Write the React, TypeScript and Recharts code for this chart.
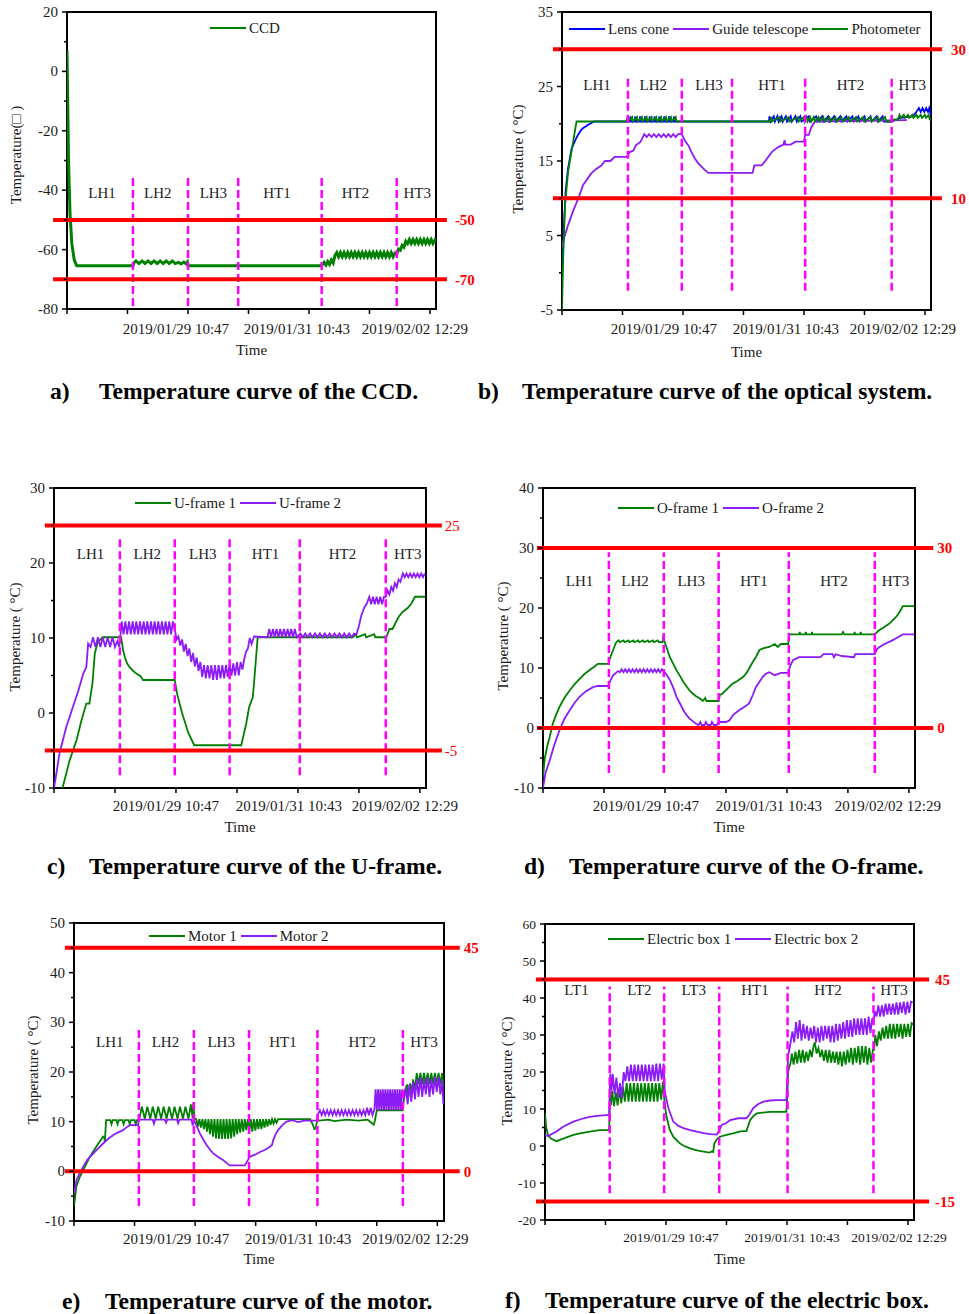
import React from 'react';
import { LineChart, Line, XAxis, YAxis, ReferenceLine, ReferenceArea, ReferenceDot, Legend } from 'recharts';

const FONT = "'Liberation Serif', 'Times New Roman', Times, serif";
const GREEN = '#008000';
const PURPLE = '#8b1cf5';
const BLUE = '#0000ff';
const RED = '#ff0000';
const MAGENTA = '#ff00ff';
const INK = '#1a1a1a';

type Pt = [number, number];

// ---------- shared axis data ----------
const timeTicks = [0, 1, 2, 3, 4, 5, 6];
const timeTickLabels = ['', '', '2019/01/29 10:47', '', '2019/01/31 10:43', '', '2019/02/02 12:29'];
const phasesLH = ['LH1', 'LH2', 'LH3', 'HT1', 'HT2', 'HT3'];
const phasesLT = ['LT1', 'LT2', 'LT3', 'HT1', 'HT2', 'HT3'];

// ---------- a) CCD ----------
const ccdYMajor = [-80, -60, -40, -20, 0, 20];
const ccdYMinor = [-70, -50, -30, -10, 10];
const ccdLimits = [-50, -70];
const ccdDividers = [1.09, 2.0, 2.83, 4.21, 5.45];
const ccdPhaseX = [0.58, 1.5, 2.42, 3.47, 4.77, 5.79];
const ccdTemp: Pt[] = [
  [0, 7], [0.01, -8], [0.025, -30], [0.05, -48], [0.08, -58], [0.12, -63.5], [0.16, -65.4], [1.09, -65.4],
  [1.11, -64.3], [1.14, -63.8], [1.19, -64.7], [1.24, -63.8], [1.29, -64.7], [1.34, -63.8], [1.39, -64.7], [1.44, -63.8],
  [1.49, -64.7], [1.54, -63.8], [1.59, -64.7], [1.64, -63.8], [1.69, -64.7], [1.74, -63.8], [1.79, -64.7], [1.84, -64.3],
  [1.89, -64.8], [1.93, -64.2], [1.97, -64.8], [1.99, -64.2], [2.0, -65.4],
  [4.21, -65.4], [4.25, -64.3], [4.28, -65.2], [4.31, -64], [4.34, -65], [4.37, -63.5], [4.4, -64.5], [4.43, -62], [4.46, -61],
  [4.49, -62.4], [4.52, -61], [4.55, -62.4], [4.58, -61], [4.61, -62.4], [4.64, -61], [4.67, -62.4], [4.7, -61],
  [4.73, -62.4], [4.76, -61], [4.79, -62.4], [4.82, -61], [4.85, -62.4], [4.88, -61], [4.91, -62.4], [4.94, -61],
  [4.97, -62.4], [5.0, -61], [5.03, -62.4], [5.06, -61], [5.09, -62.4], [5.12, -61], [5.15, -62.4], [5.18, -61],
  [5.21, -62.4], [5.24, -61], [5.27, -62.4], [5.3, -61], [5.33, -62.4], [5.36, -61], [5.39, -62.4], [5.42, -61.2],
  [5.45, -61.5], [5.48, -59.8], [5.51, -60.2], [5.54, -58.6], [5.57, -59.2], [5.6, -57.2], [5.63, -58], [5.66, -56.6],
  [5.69, -57.9], [5.72, -56.6], [5.75, -57.9], [5.78, -56.6], [5.81, -57.9], [5.84, -56.6], [5.87, -57.9], [5.9, -56.6],
  [5.93, -57.9], [5.96, -56.6], [5.99, -57.9], [6.02, -56.6], [6.05, -57.9], [6.08, -56.8], [6.1, -57.6],
];

// ---------- b) optical system ----------
const optYMajor = [-5, 5, 15, 25, 35];
const optYMinor = [0, 10, 20, 30];
const optLimits = [30, 10];
const optDividers = [1.09, 1.98, 2.81, 4.02, 5.45];
const optPhaseX = [0.58, 1.51, 2.43, 3.47, 4.77, 5.79];
const lensCone: Pt[] = [
  [0, 1], [0.03, 6], [0.06, 11], [0.1, 14], [0.16, 16.7], [0.22, 17.8], [0.27, 18.6], [0.33, 19.3], [0.42, 19.8], [0.53, 20.3],
  [1.12, 20.3], [1.13, 21], [1.14, 20.3], [1.2, 20.3], [1.21, 21], [1.22, 20.3], [1.28, 20.3], [1.29, 21], [1.3, 20.3],
  [1.36, 20.3], [1.37, 21], [1.38, 20.3], [1.44, 20.3], [1.45, 21], [1.46, 20.3], [1.52, 20.3], [1.53, 21], [1.54, 20.3],
  [1.6, 20.3], [1.61, 21], [1.62, 20.3], [1.68, 20.3], [1.69, 21], [1.7, 20.3], [1.76, 20.3], [1.77, 21], [1.78, 20.3],
  [1.84, 20.3], [1.85, 21], [1.86, 20.3],
  [3.42, 20.3], [3.43, 21], [3.45, 20.3], [3.5, 21], [3.52, 20.3], [3.56, 21], [3.58, 20.3], [3.63, 21], [3.65, 20.3],
  [3.7, 21], [3.72, 20.3], [3.78, 21], [3.8, 20.3], [3.86, 21], [3.88, 20.3], [3.94, 21], [3.96, 20.3], [4.08, 21],
  [4.1, 20.3], [4.2, 21], [4.22, 20.3], [4.3, 21], [4.32, 20.3], [4.4, 21], [4.42, 20.3], [4.5, 21], [4.52, 20.3],
  [4.6, 21], [4.62, 20.3], [4.7, 21], [4.72, 20.3], [4.8, 21], [4.82, 20.3], [4.9, 21], [4.92, 20.3], [5.0, 21],
  [5.02, 20.3], [5.1, 21], [5.12, 20.3], [5.2, 21], [5.22, 20.3], [5.3, 21], [5.32, 20.3], [5.45, 20.3], [5.6, 20.8],
  [5.8, 21], [5.86, 21.6], [5.9, 22.1], [5.93, 21.6], [5.96, 22.1], [5.99, 21.6], [6.02, 22.1], [6.05, 21.6], [6.07, 22.1], [6.1, 21],
];
const guideTelescope: Pt[] = [
  [0, 3.5], [0.03, 4.5], [0.1, 6.4], [0.18, 8.2], [0.27, 10], [0.35, 11.8], [0.42, 12.6], [0.48, 13.3], [0.56, 13.9],
  [0.65, 14.4], [0.71, 15], [0.8, 15], [0.87, 15.55], [1.07, 15.55], [1.12, 16.2], [1.18, 16.4], [1.22, 17.1], [1.3, 17.6],
  [1.36, 18.6], [1.4, 18.2], [1.44, 18.6], [1.48, 18.2], [1.52, 18.6], [1.56, 18.2], [1.6, 18.6], [1.64, 18.2], [1.68, 18.6],
  [1.72, 18.2], [1.76, 18.6], [1.8, 18.2], [1.84, 18.6], [1.88, 18.2], [1.92, 18.6], [1.98, 18.6], [2.04, 17.6], [2.09, 17.1],
  [2.14, 16.2], [2.2, 15.3], [2.26, 14.6], [2.31, 14.2], [2.36, 13.8], [2.42, 13.4], [3.15, 13.4], [3.18, 14.4], [3.3, 14.4],
  [3.36, 15], [3.41, 15.55], [3.48, 16.3], [3.58, 16.9], [3.66, 17.2], [3.68, 17.8], [3.69, 17.2], [3.78, 17.2], [3.86, 17.6],
  [4.0, 17.6], [4.02, 18.5], [4.08, 18.5], [4.12, 19.5], [4.18, 20.3], [5.0, 20.4], [5.7, 20.5],
];
const photometer: Pt[] = [
  [0, -5], [0.02, 2], [0.05, 9], [0.1, 13.5], [0.24, 20.3], [1.07, 20.3],
  [1.08, 20.9], [1.09, 20.3], [1.16, 20.9], [1.17, 20.3], [1.24, 20.9], [1.25, 20.3], [1.32, 20.9], [1.33, 20.3],
  [1.4, 20.9], [1.41, 20.3], [1.48, 20.9], [1.49, 20.3], [1.56, 20.9], [1.57, 20.3], [1.64, 20.9], [1.65, 20.3],
  [1.72, 20.9], [1.73, 20.3], [1.8, 20.9], [1.81, 20.3], [1.88, 20.9], [1.89, 20.3],
  [3.44, 20.3], [3.46, 20.9], [3.47, 20.3], [3.6, 20.9], [3.61, 20.3], [3.75, 20.9], [3.76, 20.3], [3.9, 20.9], [3.91, 20.3],
  [4.0, 20.9], [4.01, 20.3], [4.04, 20.9], [4.06, 20.3], [4.1, 20.9], [4.12, 20.3], [4.16, 20.9], [4.18, 20.3], [4.24, 20.9],
  [4.26, 20.3], [4.32, 20.9], [4.34, 20.3], [4.42, 20.9], [4.44, 20.3], [4.52, 20.9], [4.54, 20.3], [4.62, 20.9], [4.64, 20.3],
  [4.74, 20.9], [4.76, 20.3], [4.86, 20.9], [4.88, 20.3], [4.98, 20.9], [5.0, 20.3], [5.1, 20.9], [5.12, 20.3], [5.22, 20.9],
  [5.24, 20.3], [5.34, 20.9], [5.36, 20.3], [5.45, 20.3],
  [5.5, 20.6], [5.55, 20.5], [5.58, 21.2], [5.6, 20.8], [5.65, 21.2], [5.67, 20.8], [5.72, 21.2], [5.74, 20.8], [5.79, 21.2],
  [5.81, 20.8], [5.86, 21.2], [5.88, 20.8], [5.93, 21.2], [5.95, 20.8], [6.0, 21.2], [6.02, 20.8], [6.06, 21.2], [6.08, 20.6], [6.1, 20.4],
];

// ---------- c) U-frame ----------
const ufYMajor = [-10, 0, 10, 20, 30];
const ufYMinor = [-5, 5, 15, 25];
const ufLimits = [25, -5];
const ufDividers = [1.08, 1.98, 2.88, 4.03, 5.44];
const ufPhaseX = [0.6, 1.53, 2.44, 3.47, 4.73, 5.8];
const uFrame1: Pt[] = [
  [0.14, -10], [0.25, -6.5], [0.37, -3.6], [0.45, -1], [0.53, 1.25], [0.58, 1.25], [0.63, 3.9], [0.67, 8], [0.72, 9.5],
  [0.8, 10.1], [1.1, 10.1], [1.13, 8.5], [1.16, 7.5], [1.2, 6.6], [1.24, 6.1], [1.3, 5.6], [1.35, 5.25], [1.42, 4.9],
  [1.46, 4.4], [1.98, 4.4], [2.02, 2.5], [2.1, 0], [2.2, -2.6], [2.3, -4.3], [3.07, -4.3], [3.15, -1.5], [3.2, 0.8],
  [3.26, 2.1], [3.29, 5], [3.34, 10.1], [4.9, 10.1], [4.95, 10.5], [4.97, 10.1], [5.1, 10.5], [5.12, 10.1], [5.25, 10.5],
  [5.27, 10.1], [5.45, 10.1], [5.5, 11.2], [5.55, 11.2], [5.6, 12], [5.65, 12.8], [5.72, 13.5], [5.8, 14], [5.86, 14.6],
  [5.92, 15.5], [6.09, 15.5],
];
const uFrame2: Pt[] = [
  [0, -10], [0.05, -7.5], [0.09, -5.4], [0.2, -1.9], [0.31, 0.8], [0.4, 3], [0.48, 5.25], [0.53, 6.1], [0.56, 9.25],
  [0.6, 8.8], [0.64, 10.1], [0.68, 8.8], [0.72, 10.1], [0.76, 8.8], [0.8, 10.1], [0.84, 8.8], [0.88, 10.1], [0.92, 8.8],
  [0.96, 10.1], [1.0, 8.8], [1.04, 9.6], [1.07, 8.8], [1.09, 10.4],
  [1.11, 12.2], [1.14, 10.5], [1.17, 12.2], [1.2, 10.5], [1.23, 12.2], [1.26, 10.5], [1.29, 12.2], [1.32, 10.5], [1.35, 12.2],
  [1.38, 10.5], [1.41, 12.2], [1.44, 10.5], [1.47, 12.2], [1.5, 10.5], [1.53, 12.2], [1.56, 10.5], [1.59, 12.2], [1.62, 10.5],
  [1.65, 12.2], [1.68, 10.5], [1.71, 12.2], [1.74, 10.5], [1.77, 12.2], [1.8, 10.5], [1.83, 12.2], [1.86, 10.5], [1.89, 12.2],
  [1.92, 10.5], [1.95, 12.2],
  [1.98, 11.2], [2.01, 9.8], [2.04, 10.2], [2.07, 9.0], [2.1, 9.8], [2.13, 8.2], [2.16, 9.2], [2.19, 7.6], [2.22, 8.6],
  [2.25, 6.8], [2.28, 8], [2.31, 6.2], [2.34, 7.4], [2.37, 5.6], [2.4, 6.8],
  [2.43, 4.8], [2.46, 6.4], [2.49, 4.6], [2.52, 6.4], [2.55, 4.6], [2.58, 6.4], [2.61, 4.4], [2.64, 6.4], [2.67, 4.4],
  [2.7, 6.4], [2.73, 4.6], [2.76, 6.4], [2.79, 4.6], [2.82, 6.4], [2.85, 4.8], [2.88, 6.4], [2.91, 5.0], [2.94, 6.6],
  [2.97, 5.0], [3.0, 6.8], [3.03, 5.0],
  [3.06, 6.8], [3.09, 5.8], [3.12, 7.2], [3.15, 8.2], [3.18, 8.6], [3.21, 10.0], [3.24, 9.2], [3.28, 10.2], [3.5, 10.1],
  [3.53, 11.2], [3.56, 10.1], [3.59, 11.2], [3.62, 10.1], [3.65, 11.2], [3.68, 10.1], [3.71, 11.2], [3.74, 10.1], [3.77, 11.2],
  [3.8, 10.1], [3.83, 11.2], [3.86, 10.1], [3.89, 11.2], [3.92, 10.1], [3.95, 11.2], [3.98, 10.1],
  [4.04, 10.6], [4.08, 10.1], [4.12, 10.6], [4.16, 10.1], [4.2, 10.6], [4.24, 10.1], [4.28, 10.6], [4.32, 10.1], [4.36, 10.6],
  [4.4, 10.1], [4.44, 10.6], [4.48, 10.1], [4.52, 10.6], [4.56, 10.1], [4.6, 10.6], [4.64, 10.1], [4.68, 10.6], [4.72, 10.1],
  [4.76, 10.6], [4.8, 10.1], [4.84, 10.6], [4.88, 10.1], [4.92, 10.6], [4.96, 10.5],
  [5.0, 11.6], [5.04, 13], [5.09, 14.1], [5.13, 14.6], [5.17, 15.5], [5.2, 14.5], [5.23, 15.5], [5.26, 14.5], [5.29, 15.5],
  [5.32, 14.5], [5.35, 15.5], [5.38, 14.5], [5.41, 15.5], [5.44, 15.5], [5.47, 16.3], [5.5, 15.8], [5.53, 16.8], [5.56, 16.3],
  [5.59, 17.3], [5.62, 16.8], [5.65, 17.8], [5.68, 17.5], [5.72, 18.6], [5.75, 18.1], [5.78, 18.6], [5.81, 18.1], [5.84, 18.6],
  [5.87, 18.1], [5.9, 18.6], [5.93, 18.1], [5.96, 18.6], [5.99, 18.1], [6.02, 18.6], [6.05, 18.1], [6.08, 18.6],
];

// ---------- d) O-frame ----------
const ofYMajor = [-10, 0, 10, 20, 30, 40];
const ofYMinor = [-5, 5, 15, 25, 35];
const ofLimits = [30, 0];
const ofDividers = [1.08, 1.98, 2.88, 4.03, 5.44];
const ofPhaseX = [0.6, 1.51, 2.43, 3.46, 4.77, 5.78];
const oFrame1: Pt[] = [
  [0, -8.2], [0.03, -5], [0.07, -3], [0.11, -1.5], [0.16, 0.7], [0.22, 2.3], [0.27, 3.5], [0.35, 5], [0.44, 6.3], [0.52, 7.3],
  [0.6, 8.2], [0.68, 9], [0.77, 9.7], [0.84, 10.2], [0.9, 10.7], [1.07, 10.7], [1.11, 12], [1.15, 13], [1.2, 14.3],
  [1.24, 14.6], [1.26, 14.3], [1.32, 14.6], [1.34, 14.3], [1.4, 14.6], [1.42, 14.3], [1.48, 14.6], [1.5, 14.3], [1.56, 14.6],
  [1.58, 14.3], [1.64, 14.6], [1.66, 14.3], [1.72, 14.6], [1.74, 14.3], [1.8, 14.6], [1.82, 14.3], [1.88, 14.6], [1.9, 14.3],
  [1.96, 14.3], [1.97, 15], [2.0, 14.2], [2.04, 13], [2.08, 11.8], [2.14, 10.6], [2.19, 9.6], [2.25, 8.6], [2.3, 7.7],
  [2.35, 7], [2.4, 6.3], [2.46, 5.7], [2.51, 5.3], [2.56, 5], [2.6, 4.7], [2.62, 4.5], [2.66, 5], [2.68, 4.5], [2.88, 4.5],
  [2.9, 5.5], [2.95, 5.8], [3.0, 6.3], [3.05, 6.8], [3.11, 7.4], [3.18, 7.8], [3.28, 8.5], [3.34, 9.2], [3.4, 10.3],
  [3.44, 11], [3.5, 12], [3.55, 13], [3.62, 13.3], [3.71, 13.5], [3.8, 14], [3.85, 13.5], [3.9, 14], [4.02, 14], [4.04, 15.6],
  [4.2, 15.6], [4.21, 16], [4.22, 15.6], [4.3, 15.6], [4.31, 16], [4.32, 15.6], [4.4, 15.6], [4.41, 16], [4.42, 15.6],
  [4.9, 15.6], [4.92, 16], [4.94, 15.6], [5.1, 15.6], [5.11, 16], [5.12, 15.6], [5.2, 15.6], [5.21, 16], [5.22, 15.6],
  [5.44, 15.6], [5.5, 16.2], [5.56, 16.6], [5.62, 17], [5.68, 17.4], [5.72, 17.8], [5.79, 18.5], [5.84, 19.2], [5.9, 20.3],
  [6.09, 20.3],
];
const oFrame2: Pt[] = [
  [0, -10], [0.04, -7.5], [0.11, -5.4], [0.18, -3], [0.27, -0.4], [0.35, 1.5], [0.44, 3], [0.52, 4.2], [0.6, 5.2],
  [0.7, 6.1], [0.82, 6.8], [0.9, 7], [1.07, 7], [1.11, 8], [1.15, 8.8], [1.23, 9.5],
  [1.26, 9.3], [1.29, 9.8], [1.32, 9.3], [1.35, 9.8], [1.38, 9.3], [1.41, 9.8], [1.44, 9.3], [1.47, 9.8], [1.5, 9.3],
  [1.53, 9.8], [1.56, 9.3], [1.59, 9.8], [1.62, 9.3], [1.65, 9.8], [1.68, 9.3], [1.71, 9.8], [1.74, 9.3], [1.77, 9.8],
  [1.8, 9.3], [1.83, 9.8], [1.86, 9.3], [1.89, 9.8], [1.92, 9.3], [1.95, 9.8],
  [1.97, 9.6], [2.02, 9], [2.08, 8], [2.14, 6.6], [2.19, 5.2], [2.25, 4], [2.3, 3], [2.35, 2.2], [2.4, 1.6], [2.46, 1.1],
  [2.51, 0.7], [2.55, 0.5], [2.58, 1], [2.6, 0.5], [2.65, 0.5], [2.67, 1], [2.7, 0.5], [2.75, 0.5], [2.77, 1], [2.8, 0.5],
  [2.85, 0.5], [2.88, 1], [3.0, 1], [3.06, 1.3], [3.12, 2.2], [3.22, 3], [3.3, 3.5], [3.38, 4.1], [3.44, 5.5], [3.49, 6.8],
  [3.55, 7.7], [3.6, 8.5], [3.65, 9], [3.71, 9.3], [3.8, 8.8], [3.9, 9.2], [4.02, 9.2], [4.06, 10.5], [4.1, 11.3],
  [4.2, 11.8], [4.55, 11.8], [4.6, 12.3], [4.75, 12.3], [4.77, 11.8], [4.8, 12.3], [4.9, 12], [5.1, 11.8], [5.12, 12.3],
  [5.44, 12.3], [5.48, 13.2], [5.52, 13.5], [5.6, 14], [5.73, 14.6], [5.8, 15], [5.9, 15.6], [6.09, 15.6],
];

// ---------- e) motor ----------
const moYMajor = [-10, 0, 10, 20, 30, 40, 50];
const moYMinor = [-5, 5, 15, 25, 35, 45];
const moLimits = [45, 0];
const moDividers = [1.07, 1.98, 2.89, 4.02, 5.43];
const moPhaseX = [0.59, 1.51, 2.43, 3.45, 4.76, 5.78];
const motor1: Pt[] = [
  [0, -7], [0.04, -3], [0.1, -1], [0.15, 0.2], [0.26, 2.9], [0.37, 5], [0.48, 7], [0.5, 6.8], [0.51, 6], [0.53, 10.3],
  [0.6, 10.3], [0.62, 9.5], [0.64, 10.3], [0.7, 10.3], [0.72, 9.5], [0.74, 10.3], [0.8, 10.3], [0.82, 9.5], [0.84, 10.3],
  [0.9, 10.3], [0.92, 9.5], [0.94, 10.3], [1.0, 10.3], [1.02, 9.5], [1.04, 10.3], [1.06, 10.3],
  [1.08, 10.6], [1.12, 13], [1.17, 10.6], [1.21, 13], [1.26, 10.6], [1.3, 13], [1.35, 10.6], [1.39, 13], [1.44, 10.6],
  [1.48, 13], [1.53, 10.6], [1.57, 13], [1.62, 10.6], [1.66, 13], [1.71, 10.6], [1.75, 13], [1.8, 10.6], [1.84, 13],
  [1.89, 10.6], [1.93, 13.5], [1.96, 10.6], [1.97, 13.8], [1.99, 10.6],
  [2.02, 10.5], [2.045, 9.0], [2.07, 10.5], [2.095, 8.8], [2.12, 10.5], [2.145, 8.5], [2.17, 10.5], [2.195, 8.0],
  [2.22, 10.5], [2.245, 7.5], [2.27, 10.5], [2.295, 7.0], [2.32, 10.5], [2.345, 6.6], [2.37, 10.5], [2.395, 6.5],
  [2.42, 10.5], [2.445, 6.5], [2.47, 10.5], [2.495, 6.5], [2.52, 10.5], [2.545, 6.5], [2.57, 10.5], [2.595, 6.6],
  [2.62, 10.5], [2.645, 7.0], [2.67, 10.5], [2.695, 7.5], [2.72, 10.5], [2.745, 7.8], [2.77, 10.5], [2.795, 8.0],
  [2.82, 10.5], [2.845, 8.3], [2.87, 10.5], [2.895, 8.0], [2.92, 10.5], [2.945, 8.0], [2.97, 10.5], [2.995, 8.2],
  [3.02, 10.5], [3.045, 8.5], [3.07, 10.5], [3.095, 8.5], [3.12, 10.5], [3.145, 8.8], [3.17, 10.5], [3.195, 9.0],
  [3.22, 10.5], [3.245, 9.3], [3.27, 10.5], [3.295, 9.6], [3.32, 10.5], [3.345, 9.8], [3.37, 10.5],
  [3.9, 10.5], [3.94, 9.5], [3.97, 8.5], [3.99, 8.6], [4.02, 10.5], [4.05, 10.2], [4.2, 10.4], [4.3, 10.1], [4.5, 10.4],
  [4.7, 10.2], [4.85, 10.4], [4.95, 9.4], [4.97, 10.3], [5.0, 12.3], [5.43, 12.3],
  [5.46, 16], [5.5, 17.5], [5.52, 15], [5.55, 17.7], [5.58, 16], [5.6, 18.5], [5.63, 16.5], [5.66, 19.8], [5.69, 17.5],
  [5.72, 19.8], [5.75, 17.5], [5.78, 19.8], [5.81, 17.5], [5.84, 19.8], [5.87, 17.5], [5.9, 19.8], [5.93, 17.5],
  [5.96, 19.8], [5.99, 17.5], [6.02, 19.8], [6.05, 17.5], [6.08, 19.8], [6.1, 17],
];
const motor2: Pt[] = [
  [0, -4.5], [0.04, -1.8], [0.1, -0.2], [0.15, 0.9], [0.22, 2.3], [0.32, 3.6], [0.4, 4.6], [0.48, 5.6], [0.56, 6.5],
  [0.65, 7.3], [0.72, 7.8], [0.81, 8.3], [0.86, 8.8], [0.92, 9.3], [1.06, 9.3], [1.07, 10.4], [1.3, 10.4], [1.32, 9.6],
  [1.34, 10.4], [1.5, 10.4], [1.52, 9.8], [1.54, 10.4], [1.7, 10.4], [1.72, 9.7], [1.74, 10.4], [1.94, 10.4], [1.96, 9.2],
  [1.98, 10.4], [2.03, 9], [2.08, 7.6], [2.14, 6.3], [2.19, 5.3], [2.25, 4.3], [2.3, 3.6], [2.38, 2.9], [2.46, 2.3],
  [2.52, 1.7], [2.57, 1.2], [2.82, 1.2], [2.86, 2], [2.9, 2.9], [2.98, 3.3], [3.07, 3.9], [3.15, 4.3], [3.23, 4.9],
  [3.27, 5.3], [3.29, 6.3], [3.33, 7.5], [3.37, 8.3], [3.44, 9.3], [3.51, 10], [3.6, 10.3], [3.7, 9.9], [3.8, 10.2],
  [4.02, 10.2], [4.03, 11.5],
  [4.06, 12.3], [4.09, 11.3], [4.12, 12.3], [4.15, 11.3], [4.18, 12.3], [4.21, 11.3], [4.24, 12.3], [4.27, 11.3],
  [4.3, 12.3], [4.33, 11.3], [4.36, 12.3], [4.39, 11.3], [4.42, 12.3], [4.45, 11.3], [4.48, 12.3], [4.51, 11.3],
  [4.54, 12.3], [4.57, 11.3], [4.6, 12.3], [4.63, 11.3], [4.66, 12.3], [4.69, 11.3], [4.72, 12.3], [4.75, 11.3],
  [4.78, 12.3], [4.81, 11.3], [4.84, 12.8], [4.87, 11.3], [4.9, 12.8], [4.93, 11.3], [4.96, 12.5],
  [4.98, 16.5], [5.0, 12.3], [5.02, 16.5], [5.04, 12.3], [5.06, 16.5], [5.08, 12.3], [5.1, 16.5], [5.12, 12.3],
  [5.14, 16.5], [5.16, 12.3], [5.18, 16.5], [5.2, 12.3], [5.22, 16.5], [5.24, 12.3], [5.26, 16.5], [5.28, 12.3],
  [5.3, 16.5], [5.32, 12.3], [5.34, 16.5], [5.36, 12.3], [5.38, 16.5], [5.4, 12.3], [5.42, 16.5],
  [5.45, 14.5], [5.48, 17], [5.51, 13.5], [5.54, 17.5], [5.57, 14], [5.6, 18], [5.63, 14.5], [5.66, 18.5], [5.69, 15],
  [5.72, 19], [5.75, 15], [5.78, 18.5], [5.81, 15.5], [5.84, 19], [5.87, 15], [5.9, 18.5], [5.93, 15.5], [5.96, 19],
  [5.99, 16], [6.02, 19], [6.05, 15.5], [6.08, 18.5], [6.1, 13.5],
];

// ---------- f) electric box ----------
const ebYMajor = [-20, -10, 0, 10, 20, 30, 40, 50, 60];
const ebYMinor = [-15, -5, 5, 15, 25, 35, 45, 55];
const ebLimits = [45, -15];
const ebDividers = [1.07, 1.97, 2.88, 4.01, 5.43];
const ebPhaseX = [0.52, 1.56, 2.46, 3.47, 4.68, 5.77];
const elecBox1: Pt[] = [
  [0, 8.9], [0.02, 5], [0.05, 2.9], [0.1, 2], [0.19, 1.3], [0.3, 2], [0.47, 3], [0.6, 3.5], [0.74, 3.9], [0.9, 4.3],
  [1.06, 4.3], [1.07, 10], [1.08, 14], [1.09, 11],
  [1.11, 15], [1.14, 10.8], [1.17, 14.5], [1.2, 11], [1.23, 15.5], [1.26, 11.5], [1.29, 16], [1.32, 12], [1.35, 17],
  [1.38, 12], [1.41, 17], [1.44, 12], [1.47, 17], [1.5, 12], [1.53, 17], [1.56, 12], [1.59, 17], [1.62, 12], [1.65, 17],
  [1.68, 12], [1.71, 17], [1.74, 12], [1.77, 17], [1.8, 12], [1.83, 17], [1.86, 12], [1.89, 17], [1.92, 12.5], [1.95, 17.4],
  [1.97, 13], [1.99, 10], [2.01, 7.9], [2.06, 4.5], [2.12, 2.5], [2.18, 1.5], [2.23, 0.7], [2.3, 0], [2.38, -0.5],
  [2.45, -0.9], [2.55, -1.3], [2.65, -1.6], [2.72, -1.8], [2.75, -1.5], [2.78, -1.6], [2.8, 0.7], [2.85, 2], [2.89, 2.5],
  [3.0, 3], [3.11, 3.4], [3.2, 3.8], [3.26, 4], [3.33, 4], [3.36, 5.5], [3.39, 7], [3.44, 8], [3.5, 8.8], [3.6, 9],
  [3.72, 9.2], [3.99, 9.2], [4.0, 12], [4.02, 20], [4.04, 21.4], [4.06, 22.5],
  [4.08, 25], [4.11, 22], [4.14, 25.5], [4.17, 22.3], [4.2, 26], [4.23, 22.5], [4.26, 26], [4.29, 22.5], [4.32, 25.5],
  [4.35, 23], [4.38, 26], [4.41, 24], [4.44, 27], [4.46, 28], [4.49, 25], [4.52, 26.5], [4.55, 24], [4.58, 26],
  [4.61, 23], [4.64, 26], [4.67, 22.5], [4.7, 26], [4.73, 22.5], [4.76, 25.5], [4.79, 22.5], [4.82, 25.5], [4.85, 22],
  [4.88, 25.5], [4.91, 21.5], [4.94, 25.5], [4.97, 22], [5.0, 26], [5.03, 22.5], [5.06, 26.5], [5.09, 22], [5.12, 26.5],
  [5.15, 22.5], [5.18, 27], [5.21, 22], [5.24, 27], [5.27, 22.5], [5.3, 27], [5.33, 22], [5.36, 26.5], [5.39, 22.5],
  [5.42, 26], [5.44, 26], [5.46, 30], [5.49, 27], [5.52, 31], [5.55, 28.5], [5.58, 32], [5.61, 29], [5.64, 32.5],
  [5.67, 29], [5.7, 33], [5.73, 29], [5.76, 33], [5.79, 29], [5.82, 33], [5.85, 29.5], [5.88, 33], [5.91, 29], [5.94, 33],
  [5.97, 29.5], [6.0, 33], [6.03, 29.5], [6.06, 33.2], [6.09, 32.8],
];
const elecBox2: Pt[] = [
  [0, 2.9], [0.05, 2.7], [0.19, 3.9], [0.3, 5.2], [0.47, 6.6], [0.6, 7.3], [0.74, 7.9], [0.9, 8.2], [1.06, 8.4],
  [1.07, 15], [1.08, 19.5], [1.1, 15], [1.12, 19.5], [1.15, 14], [1.18, 18.5], [1.21, 13], [1.24, 17], [1.27, 13],
  [1.3, 20], [1.33, 17.5], [1.36, 21.5], [1.39, 17.5], [1.42, 22], [1.45, 17.5], [1.48, 22], [1.51, 17.5], [1.54, 22],
  [1.57, 17.5], [1.6, 22], [1.63, 17.5], [1.66, 22], [1.69, 17.5], [1.72, 22], [1.75, 17.5], [1.78, 22], [1.81, 17.5],
  [1.84, 22.3], [1.87, 17.5], [1.9, 22.3], [1.93, 18], [1.96, 22.3],
  [1.98, 14.7], [2.04, 10.2], [2.12, 6.6], [2.2, 5.5], [2.29, 4.8], [2.4, 4.3], [2.51, 3.9], [2.62, 3.5], [2.73, 3.2],
  [2.84, 3.1], [2.88, 4.2], [2.92, 5.7], [3.0, 6.2], [3.06, 7], [3.2, 7.5], [3.33, 7.5], [3.38, 8.5], [3.44, 10.2],
  [3.52, 11.3], [3.61, 12], [3.72, 12.3], [3.83, 12.4], [3.99, 12.4], [4.0, 16], [4.02, 24.6], [4.04, 26],
  [4.06, 28], [4.09, 31], [4.12, 28], [4.15, 33.5], [4.18, 29], [4.21, 34], [4.24, 28.5], [4.27, 33], [4.3, 29],
  [4.33, 32.5], [4.36, 28.5], [4.39, 32], [4.42, 29], [4.45, 32.5], [4.48, 28], [4.51, 32], [4.54, 28], [4.57, 32.5],
  [4.6, 28.5], [4.63, 32.5], [4.66, 29], [4.69, 32.5], [4.72, 28], [4.75, 32.5], [4.78, 28], [4.81, 33], [4.84, 28.5],
  [4.87, 33], [4.9, 29], [4.93, 33.5], [4.96, 29], [4.99, 34], [5.02, 29.5], [5.05, 34], [5.08, 29.5], [5.11, 34.5],
  [5.14, 30], [5.17, 34.5], [5.2, 30], [5.23, 34.5], [5.26, 30], [5.29, 34.5], [5.32, 30], [5.35, 35], [5.38, 30.5],
  [5.41, 34.5], [5.43, 33], [5.45, 36.5], [5.48, 35], [5.51, 38], [5.54, 35], [5.57, 38], [5.6, 35], [5.63, 38.5],
  [5.66, 35.5], [5.69, 38.5], [5.72, 35.5], [5.75, 38.5], [5.78, 35.5], [5.81, 38.8], [5.84, 35.5], [5.87, 38.8],
  [5.9, 36], [5.93, 39], [5.96, 35.5], [5.99, 39], [6.02, 36], [6.05, 39], [6.08, 38.8],
];

// ---------- panel configuration (layout / style) ----------
type Series = { name: string; color: string; width: number; pts: Pt[] };
type PanelCfg = {
  ox: number; oy: number; w: number; h: number; L: number; T: number; R: number; B: number;
  xMax: number; yMin: number; yMax: number; yMajor: number[]; yMinor: number[];
  series: Series[]; dividers: number[]; divSpan: [number, number];
  phases: string[]; phaseX: number[]; phaseY: number;
  limits: number[]; limExt: [number, number]; limBold: boolean; limOffset: number;
  yTitle: string; yTitleX: number; yTitleY: number; xTitleDY: number;
  tickFont: number; tickDY: number; tickShift: Record<number, number>;
  legendX: number; legendY: number;
  capTag: string; capText: string; capTagX: number; capTextX: number; capY: number;
};

const TEMP_C = 'Temperature ( \u00B0C)';
const LW = 1.8;

const panels: PanelCfg[] = [
  {
    ox: 0, oy: 0, w: 485, h: 365, L: 67, T: 12, R: 436, B: 309, xMax: 6.1, yMin: -80, yMax: 20,
    yMajor: ccdYMajor, yMinor: ccdYMinor,
    series: [{ name: 'CCD', color: GREEN, width: 3, pts: ccdTemp }],
    dividers: ccdDividers, divSpan: [-79, -35.5], phases: phasesLH, phaseX: ccdPhaseX, phaseY: -41,
    limits: ccdLimits, limExt: [-0.23, 6.28], limBold: true, limOffset: 8,
    yTitle: 'Temperature(\u25A1 )', yTitleX: 16, yTitleY: 155, xTitleDY: 41,
    tickFont: 15, tickDY: 20, tickShift: { 2: -12, 4: -12, 6: -15 },
    legendX: 210, legendY: 28,
    capTag: 'a)', capText: 'Temperature curve of the CCD.', capTagX: 50, capTextX: 99, capY: 391,
  },
  {
    ox: 480, oy: 0, w: 489, h: 365, L: 562, T: 12, R: 931, B: 310, xMax: 6.1, yMin: -5, yMax: 35,
    yMajor: optYMajor, yMinor: optYMinor,
    series: [
      { name: 'Lens cone', color: BLUE, width: LW, pts: lensCone },
      { name: 'Guide telescope', color: PURPLE, width: LW, pts: guideTelescope },
      { name: 'Photometer', color: GREEN, width: LW, pts: photometer },
    ],
    dividers: optDividers, divSpan: [-2.4, 26.5], phases: phasesLH, phaseX: optPhaseX, phaseY: 25.3,
    limits: optLimits, limExt: [-0.15, 6.28], limBold: true, limOffset: 9,
    yTitle: TEMP_C, yTitleX: 518, yTitleY: 159, xTitleDY: 42,
    tickFont: 15, tickDY: 19, tickShift: { 2: -19, 4: -18, 6: -22 },
    legendX: 569, legendY: 29,
    capTag: 'b)', capText: 'Temperature curve of the optical system.', capTagX: 478, capTextX: 522, capY: 391,
  },
  {
    ox: 0, oy: 470, w: 485, h: 365, L: 54, T: 488, R: 426, B: 788, xMax: 6.1, yMin: -10, yMax: 30,
    yMajor: ufYMajor, yMinor: ufYMinor,
    series: [
      { name: 'U-frame 1', color: GREEN, width: LW, pts: uFrame1 },
      { name: 'U-frame 2', color: PURPLE, width: LW, pts: uFrame2 },
    ],
    dividers: ufDividers, divSpan: [-8.3, 23.3], phases: phasesLH, phaseX: ufPhaseX, phaseY: 21.3,
    limits: ufLimits, limExt: [-0.15, 6.36], limBold: false, limOffset: 3,
    yTitle: TEMP_C, yTitleX: 15, yTitleY: 637, xTitleDY: 39,
    tickFont: 15, tickDY: 18, tickShift: { 2: -10, 4: -9, 6: -15 },
    legendX: 135, legendY: 503,
    capTag: 'c)', capText: 'Temperature curve of the U-frame.', capTagX: 47, capTextX: 89, capY: 866,
  },
  {
    ox: 480, oy: 470, w: 489, h: 365, L: 543, T: 488, R: 915, B: 788, xMax: 6.1, yMin: -10, yMax: 40,
    yMajor: ofYMajor, yMinor: ofYMinor,
    series: [
      { name: 'O-frame 1', color: GREEN, width: LW, pts: oFrame1 },
      { name: 'O-frame 2', color: PURPLE, width: LW, pts: oFrame2 },
    ],
    dividers: ofDividers, divSpan: [-7.5, 29.3], phases: phasesLH, phaseX: ofPhaseX, phaseY: 24.6,
    limits: ofLimits, limExt: [-0.1, 6.4], limBold: true, limOffset: 4,
    yTitle: TEMP_C, yTitleX: 503, yTitleY: 636, xTitleDY: 39,
    tickFont: 15, tickDY: 18, tickShift: { 2: -19, 4: -18, 6: -21 },
    legendX: 618, legendY: 508,
    capTag: 'd)', capText: 'Temperature curve of the O-frame.', capTagX: 524, capTextX: 569, capY: 866,
  },
  {
    ox: 0, oy: 905, w: 485, h: 370, L: 74, T: 923, R: 444, B: 1221, xMax: 6.11, yMin: -10, yMax: 50,
    yMajor: moYMajor, yMinor: moYMinor,
    series: [
      { name: 'Motor 1', color: GREEN, width: LW, pts: motor1 },
      { name: 'Motor 2', color: PURPLE, width: LW, pts: motor2 },
    ],
    dividers: moDividers, divSpan: [-7, 29.1], phases: phasesLH, phaseX: moPhaseX, phaseY: 26.1,
    limits: moLimits, limExt: [-0.15, 6.37], limBold: true, limOffset: 4,
    yTitle: TEMP_C, yTitleX: 33, yTitleY: 1070, xTitleDY: 38,
    tickFont: 15, tickDY: 18, tickShift: { 2: -19, 4: -18, 6: -22 },
    legendX: 149, legendY: 936,
    capTag: 'e)', capText: 'Temperature curve of the motor.', capTagX: 62, capTextX: 105, capY: 1301,
  },
  {
    ox: 480, oy: 905, w: 489, h: 370, L: 545, T: 924, R: 914, B: 1220, xMax: 6.1, yMin: -20, yMax: 60,
    yMajor: ebYMajor, yMinor: ebYMinor,
    series: [
      { name: 'Electric box 1', color: GREEN, width: LW, pts: elecBox1 },
      { name: 'Electric box 2', color: PURPLE, width: LW, pts: elecBox2 },
    ],
    dividers: ebDividers, divSpan: [-12.8, 43.1], phases: phasesLT, phaseX: ebPhaseX, phaseY: 42.2,
    limits: ebLimits, limExt: [-0.15, 6.35], limBold: true, limOffset: 6,
    yTitle: TEMP_C, yTitleX: 507, yTitleY: 1071, xTitleDY: 39,
    tickFont: 13.5, tickDY: 17, tickShift: { 2: 5, 4: 5, 6: -9 },
    legendX: 608, legendY: 939,
    capTag: 'f)', capText: 'Temperature curve of the electric box.', capTagX: 505, capTextX: 545, capY: 1300,
  },
];

const Y_AXIS_W = 50;
const X_AXIS_H = 40;

function LegendBox({ items }: { items: Series[] }) {
  return (
    <div style={{ display: 'flex', alignItems: 'center', fontFamily: FONT, fontSize: 15, color: INK, whiteSpace: 'nowrap', lineHeight: '20px' }}>
      {items.map((s, i) => (
        <div key={i} style={{ display: 'flex', alignItems: 'center', marginLeft: i ? 4 : 0 }}>
          <svg width={36} height={6} style={{ display: 'block' }}>
            <line x1={0} y1={3} x2={36} y2={3} stroke={s.color} strokeWidth={2} />
          </svg>
          <span style={{ marginLeft: 3 }}>{s.name}</span>
        </div>
      ))}
    </div>
  );
}

function Panel({ cfg }: { cfg: PanelCfg }) {
  const { ox, oy, w, h, L, T, R, B } = cfg;
  const margin = { left: L - ox - Y_AXIS_W, top: T - oy, right: ox + w - R, bottom: oy + h - B - X_AXIS_H };
  const yTicks = [...cfg.yMajor, ...cfg.yMinor].sort((a, b) => a - b);
  const lx = L - ox, lr = R - ox, lb = B - oy;

  const XTick = (p: any) => {
    const v = p.payload.value;
    const idx = timeTicks.indexOf(v);
    const label = idx >= 0 ? timeTickLabels[idx] : '';
    const shift = cfg.tickShift[v] || 0;
    return (
      <g>
        <line x1={p.x} y1={p.y} x2={p.x} y2={p.y + 5} stroke="#000" strokeWidth={1.5} />
        {label ? (
          <text x={p.x + shift} y={p.y + cfg.tickDY} textAnchor="middle" dominantBaseline="central" fontSize={cfg.tickFont} fontFamily={FONT} fill={INK}>{label}</text>
        ) : null}
      </g>
    );
  };
  const YTick = (p: any) => {
    const v = p.payload.value;
    const major = cfg.yMajor.includes(v);
    return (
      <g>
        <line x1={p.x} y1={p.y} x2={p.x - (major ? 5 : 3)} y2={p.y} stroke="#000" strokeWidth={1.5} />
        {major ? (
          <text x={p.x - 9} y={p.y} textAnchor="end" dominantBaseline="central" fontSize={cfg.tickFont} fontFamily={FONT} fill={INK}>{String(v)}</text>
        ) : null}
      </g>
    );
  };
  const XTitle = () => (
    <text x={(lx + lr) / 2} y={lb + cfg.xTitleDY} textAnchor="middle" dominantBaseline="central" fontSize={15} fontFamily={FONT} fill={INK}>Time</text>
  );
  const YTitle = () => {
    const cx = cfg.yTitleX - ox, cy = cfg.yTitleY - oy;
    return (
      <text x={cx} y={cy} transform={`rotate(-90 ${cx} ${cy})`} textAnchor="middle" dominantBaseline="central" fontSize={15} fontFamily={FONT} fill={INK}>{cfg.yTitle}</text>
    );
  };

  return (
    <div style={{ position: 'absolute', left: ox, top: oy, width: w, height: h }}>
      <LineChart width={w} height={h} margin={margin}>
        <XAxis type="number" dataKey="t" domain={[0, cfg.xMax]} ticks={timeTicks} interval={0} allowDataOverflow
          height={X_AXIS_H} tickSize={0} tickMargin={0} axisLine={false} tickLine={false} tick={XTick} label={XTitle} />
        <YAxis type="number" dataKey="v" domain={[cfg.yMin, cfg.yMax]} ticks={yTicks} interval={0} allowDataOverflow
          width={Y_AXIS_W} tickSize={0} tickMargin={0} axisLine={false} tickLine={false} tick={YTick} label={YTitle} />
        <ReferenceArea x1={0} x2={cfg.xMax} y1={cfg.yMin} y2={cfg.yMax} fill="none" fillOpacity={0} stroke="#000" strokeWidth={2} />
        {cfg.series.map((s) => (
          <Line key={s.name} name={s.name} data={s.pts.map(([t, v]) => ({ t, v }))} dataKey="v" type="linear"
            stroke={s.color} strokeWidth={s.width} dot={false} activeDot={false} isAnimationActive={false} />
        ))}
        {cfg.dividers.map((d, i) => (
          <ReferenceLine key={`d${i}`} segment={[{ x: d, y: cfg.divSpan[0] }, { x: d, y: cfg.divSpan[1] }]}
            stroke={MAGENTA} strokeWidth={2.5} strokeDasharray="8 4" ifOverflow="visible" />
        ))}
        {cfg.limits.map((v, i) => (
          <ReferenceLine key={`l${i}`} segment={[{ x: cfg.limExt[0], y: v }, { x: cfg.limExt[1], y: v }]}
            stroke={RED} strokeWidth={4} ifOverflow="visible"
            label={{ value: String(v), position: 'right', offset: cfg.limOffset, fill: RED, fontSize: 15, fontFamily: FONT, fontWeight: cfg.limBold ? 'bold' : 'normal' }} />
        ))}
        {cfg.phases.map((name, i) => (
          <ReferenceDot key={`p${i}`} x={cfg.phaseX[i]} y={cfg.phaseY} r={0} fill="none" stroke="none"
            label={{ value: name, position: 'center', fill: '#222', fontSize: 15, fontFamily: FONT }} />
        ))}
        <Legend layout="horizontal" verticalAlign="middle" align="center"
          wrapperStyle={{ left: cfg.legendX - ox, top: cfg.legendY - oy - 10, width: 'auto', height: 20 }}
          content={() => <LegendBox items={cfg.series} />} />
      </LineChart>
    </div>
  );
}

export default function App() {
  return (
    <div style={{ position: 'absolute', left: 0, top: 0, width: 969, height: 1314, background: '#fff', fontFamily: FONT, overflow: 'hidden' }}>
      {panels.map((p, i) => <Panel key={i} cfg={p} />)}
      {panels.map((p, i) => (
        <React.Fragment key={`c${i}`}>
          <div style={{ position: 'absolute', left: p.capTagX, top: p.capY - 14, fontSize: 23.6, fontWeight: 'bold', lineHeight: '28px', color: '#000', whiteSpace: 'nowrap' }}>{p.capTag}</div>
          <div style={{ position: 'absolute', left: p.capTextX, top: p.capY - 14, fontSize: 23.6, fontWeight: 'bold', lineHeight: '28px', color: '#000', whiteSpace: 'nowrap' }}>{p.capText}</div>
        </React.Fragment>
      ))}
    </div>
  );
}
